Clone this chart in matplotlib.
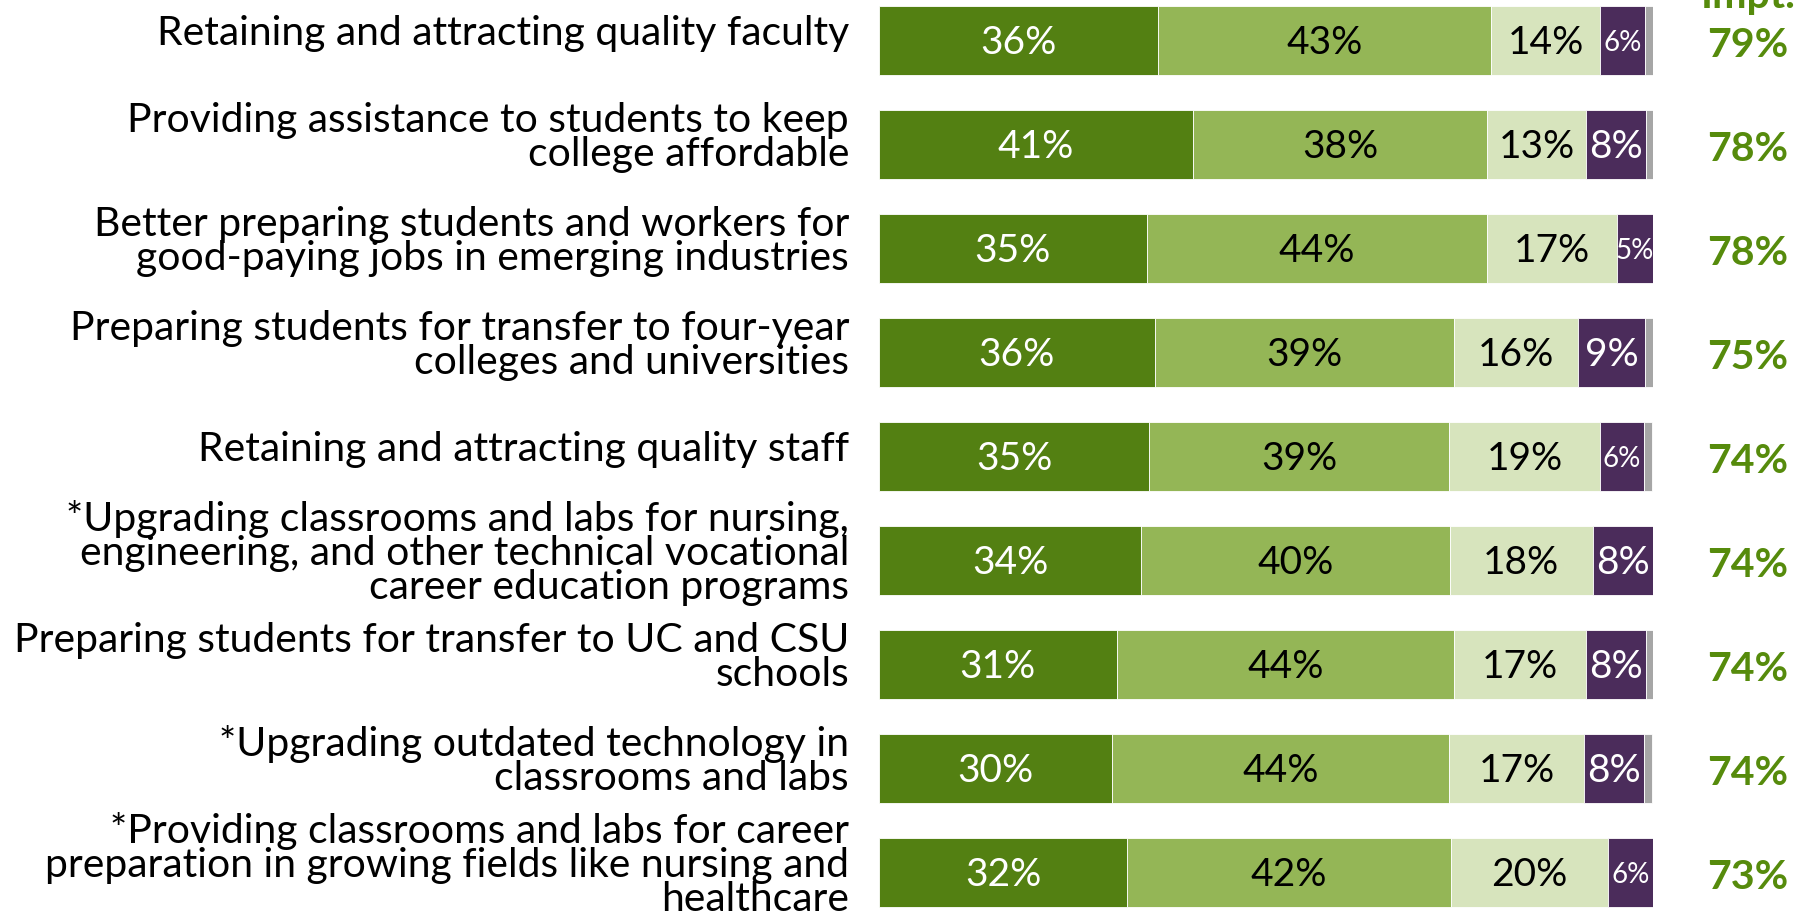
import matplotlib.pyplot as plt
import numpy as np

plt.rcParams['font.family'] = ['Lato', 'DejaVu Sans']

items = [
    "Retaining and attracting quality faculty",
    "Providing assistance to students to keep\ncollege affordable",
    "Better preparing students and workers for\ngood-paying jobs in emerging industries",
    "Preparing students for transfer to four-year\ncolleges and universities",
    "Retaining and attracting quality staff",
    "*Upgrading classrooms and labs for nursing,\nengineering, and other technical vocational\ncareer education programs",
    "Preparing students for transfer to UC and CSU\nschools",
    "*Upgrading outdated technology in\nclassrooms and labs",
    "*Providing classrooms and labs for career\npreparation in growing fields like nursing and\nhealthcare",
]

# segment shares (%)
extremely = [36.0, 40.6, 34.6, 35.6, 34.9, 33.9, 30.7, 30.1, 32.1]
very = [43.1, 38.0, 43.9, 38.7, 38.8, 39.9, 43.6, 43.6, 41.8]
somewhat = [14.1, 12.7, 16.8, 16.0, 19.4, 18.4, 17.0, 17.4, 20.3]
not_impt = [5.8, 7.8, 4.7, 8.7, 5.8, 7.8, 7.8, 7.8, 5.8]
dont_know = [1.0, 1.0, 0.0, 1.0, 1.0, 0.0, 1.0, 1.0, 0.0]
total_impt = [79, 78, 78, 75, 74, 74, 74, 74, 73]

W, H = 1795, 915
fig = plt.figure(figsize=(W / 100, H / 100), dpi=100)
ax = fig.add_axes([879 / W, 0, 774 / W, 1])

y = np.arange(len(items))
series = [
    (extremely, '#538012', 'white'),
    (very, '#94B656', 'black'),
    (somewhat, '#D7E4BD', 'black'),
    (not_impt, '#4B2C5B', 'white'),
    (dont_know, '#A6A6A6', None),
]

left = np.zeros(len(items))
for vals, color, tcolor in series:
    vals = np.array(vals)
    ax.barh(y, vals, left=left, height=0.664, color=color,
            edgecolor='white', linewidth=0.6)
    if tcolor is not None:
        for i, v in enumerate(vals):
            size = 20 if (color == '#4B2C5B' and v < 7) else 28
            ax.text(left[i] + v / 2, y[i] + 0.02, f"{v:.0f}%", ha='center',
                    va='center', color=tcolor, fontsize=size)
    left += vals

tr = ax.get_yaxis_transform()
for i, lab in enumerate(items):
    ax.text(-30 / 774, y[i] - 0.07, lab, transform=tr, ha='right', va='center',
            multialignment='right', fontsize=29.4, linespacing=0.9)
    ax.text((1748 - 879) / 774, y[i] + 0.05, f"{total_impt[i]}%", transform=tr,
            ha='center', va='center', fontsize=29.5, fontweight='bold',
            color='#568B0C')

# column header, cut off by the top edge as in the original slide
fig.text(1748 / W, 1 - 8 / H, "Impt.", ha='center', va='baseline',
         fontsize=29.5, fontweight='bold', color='#568B0C')

ax.set_xlim(0, 100)
ax.set_ylim(8 + 42.5 / 104, -40.5 / 104)
ax.axis('off')

fig.savefig('out.png', dpi=100)
